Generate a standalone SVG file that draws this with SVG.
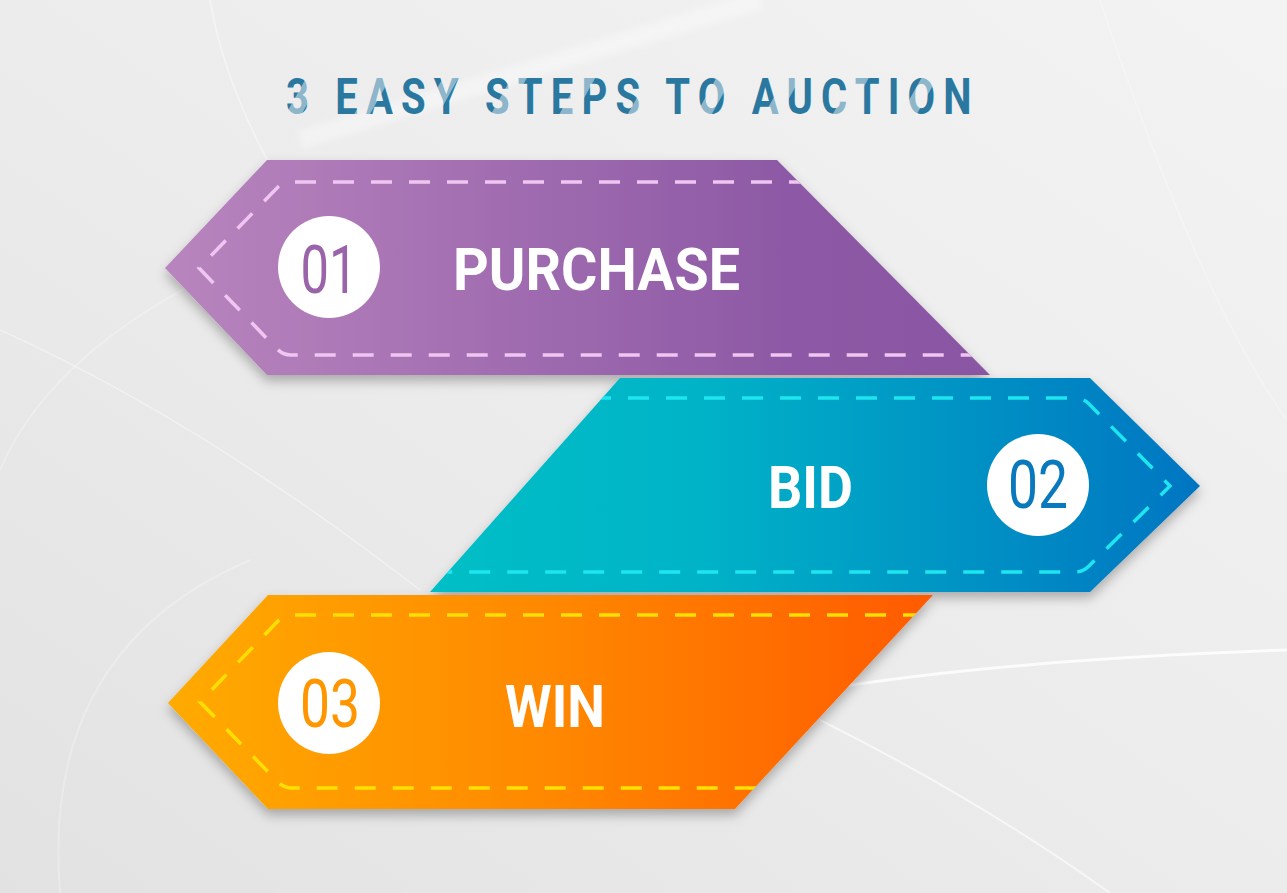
<svg xmlns="http://www.w3.org/2000/svg" width="1287" height="893" viewBox="0 0 1287 893">
  <defs>
    <linearGradient id="bg" x1="0" y1="1" x2="1" y2="0">
      <stop offset="0" stop-color="#e2e2e2"/>
      <stop offset="0.5" stop-color="#ececec"/>
      <stop offset="1" stop-color="#f3f3f3"/>
    </linearGradient>
    <linearGradient id="gPurple" x1="0" y1="0" x2="1" y2="0">
      <stop offset="0" stop-color="#b985be"/>
      <stop offset="0.75" stop-color="#8d59a5"/>
      <stop offset="1" stop-color="#8a56a3"/>
    </linearGradient>
    <linearGradient id="gCyan" x1="0" y1="0" x2="1" y2="0">
      <stop offset="0" stop-color="#00bfc6"/>
      <stop offset="0.35" stop-color="#00b3c7"/>
      <stop offset="1" stop-color="#0275c2"/>
    </linearGradient>
    <linearGradient id="gOrange" x1="0" y1="0" x2="1" y2="0">
      <stop offset="0" stop-color="#ffab00"/>
      <stop offset="0.5" stop-color="#ff8800"/>
      <stop offset="1" stop-color="#ff5a00"/>
    </linearGradient>
    <pattern id="stripe" patternUnits="userSpaceOnUse" width="70" height="70" patternTransform="rotate(35)">
      <rect width="70" height="70" fill="#2a78a0"/>
      <rect x="0" width="16" height="70" fill="#8db6cb"/>
    </pattern>
    <filter id="shadow" x="-10%" y="-10%" width="120%" height="130%">
      <feDropShadow dx="0" dy="6" stdDeviation="6" flood-color="#000" flood-opacity="0.28"/>
    </filter>
    <filter id="soft" x="-10%" y="-10%" width="120%" height="120%">
      <feGaussianBlur stdDeviation="3"/>
    </filter>
    <clipPath id="cpPurple"><path d="M267 160 H777 L990 375 H267 L165 268 Z"/></clipPath>
    <clipPath id="cpCyan"><path d="M620 378 H1090 L1200 486 L1090 592 H430 Z"/></clipPath>
    <clipPath id="cpOrange"><path d="M268 595 H933 L735 809 H268 L168 703 Z"/></clipPath>
    <style>
      .dash { fill: none; stroke-width: 3.5; stroke-dasharray: 21 17; stroke-linecap: butt; }
      .label { font-family: Roboto, "Liberation Sans", sans-serif; font-weight: 700; font-size: 60px; fill: #ffffff; }
      .num { font-family: Roboto, "Liberation Sans", sans-serif; font-weight: 400; font-size: 67px; text-anchor: middle; }
      .title { font-family: Roboto, "Liberation Sans", sans-serif; font-weight: 700; font-size: 50px; }
    </style>
  </defs>

  <!-- background -->
  <rect width="1287" height="893" fill="url(#bg)"/>
  <g fill="none" stroke="#ffffff" filter="url(#soft)">
    <path d="M300 140 L 760 0" stroke-opacity="0.35" stroke-width="18"/>
  </g>
  <g fill="none" stroke="#ffffff">
    <path d="M210 0 Q 230 120 330 260" stroke-opacity="0.45" stroke-width="1.5"/>
    <path d="M0 330 Q 200 420 420 590" stroke-opacity="0.4" stroke-width="1.5"/>
    <path d="M0 470 Q 60 330 290 240" stroke-opacity="0.25" stroke-width="2"/>
    <path d="M820 690 Q 1000 660 1287 650" stroke-opacity="0.8" stroke-width="3"/>
    <path d="M820 720 Q 980 800 1110 893" stroke-opacity="0.6" stroke-width="2"/>
    <path d="M60 893 Q 40 650 250 560" stroke-opacity="0.25" stroke-width="2"/>
    <path d="M1100 0 Q 1200 300 1287 420" stroke-opacity="0.3" stroke-width="1.5"/>
  </g>

  <!-- title -->
  <g id="title" transform="translate(286 114) scale(0.8 1)">
    <text class="title" x="0" y="0" fill="url(#stripe)" textLength="857" lengthAdjust="spacing">3 EASY STEPS TO AUCTION</text>
  </g>

  <!-- step 1 -->
  <g id="step1">
    <path d="M267 160 H777 L990 375 H267 L165 268 Z" fill="url(#gPurple)" filter="url(#shadow)"/>
    <path class="dash" clip-path="url(#cpPurple)" stroke="#efc6f2" d="M1000 182 H291 Q283 182 277 188 L199 268 L277 349 Q283 355 291 355 H1000"/>
    <circle cx="329" cy="267" r="51" fill="#ffffff"/>
    <text class="num" x="329" y="293" fill="#9a63aa" textLength="57" lengthAdjust="spacingAndGlyphs">01</text>
    <text class="label" x="453" y="290" textLength="287" lengthAdjust="spacingAndGlyphs">PURCHASE</text>
  </g>

  <!-- step 2 -->
  <g id="step2">
    <path d="M620 378 H1090 L1200 486 L1090 592 H430 Z" fill="url(#gCyan)" filter="url(#shadow)"/>
    <path class="dash" clip-path="url(#cpCyan)" stroke="#1ee6f0" d="M400 398 H1075 Q1083 398 1089 404 L1170 486 L1089 566 Q1083 572 1075 572 H400"/>
    <circle cx="1038" cy="485" r="51" fill="#ffffff"/>
    <text class="num" x="1038" y="508" fill="#0a78bd" textLength="60" lengthAdjust="spacingAndGlyphs">02</text>
    <text class="label" x="768" y="508" textLength="85" lengthAdjust="spacingAndGlyphs">BID</text>
  </g>

  <!-- step 3 -->
  <g id="step3">
    <path d="M268 595 H933 L735 809 H268 L168 703 Z" fill="url(#gOrange)" filter="url(#shadow)"/>
    <path class="dash" clip-path="url(#cpOrange)" stroke="#ffe000" d="M1000 615 H292 Q284 615 278 621 L200 702 L278 782 Q284 788 292 788 H1000"/>
    <circle cx="329" cy="703" r="51" fill="#ffffff"/>
    <text class="num" x="330" y="727" fill="#ff9600" textLength="60" lengthAdjust="spacingAndGlyphs">03</text>
    <text class="label" x="505" y="727" textLength="100" lengthAdjust="spacingAndGlyphs">WIN</text>
  </g>

  <g id="connectors"/>
</svg>
